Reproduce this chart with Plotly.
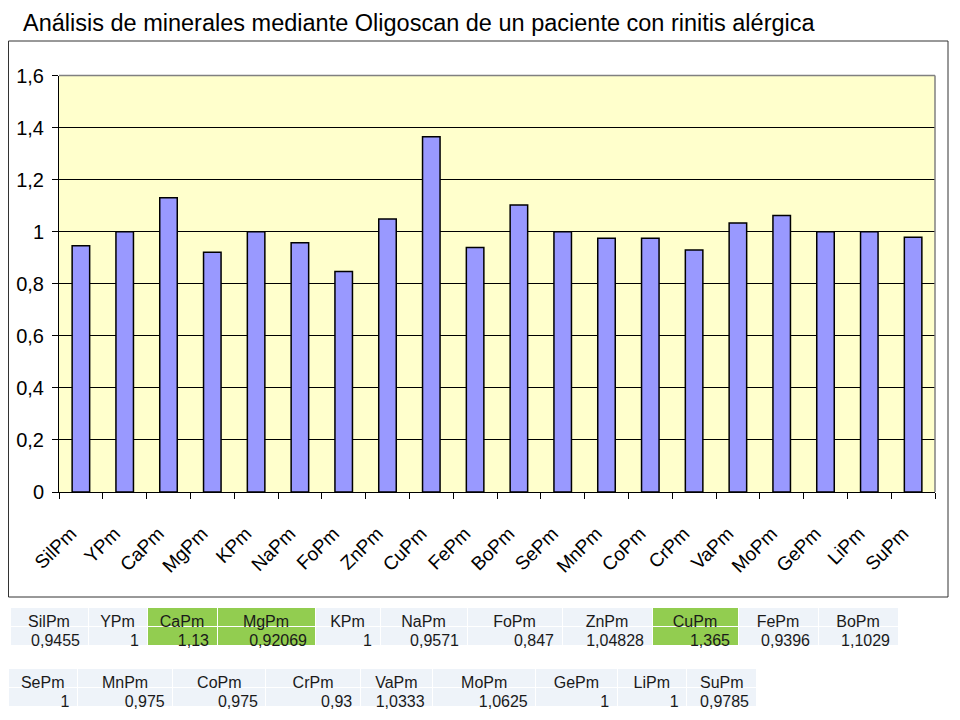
import plotly.graph_objects as go

title_text = "Análisis de minerales mediante Oligoscan de un paciente con rinitis alérgica"

categories = ["SilPm", "YPm", "CaPm", "MgPm", "KPm", "NaPm", "FoPm", "ZnPm", "CuPm", "FePm",
              "BoPm", "SePm", "MnPm", "CoPm", "CrPm", "VaPm", "MoPm", "GePm", "LiPm", "SuPm"]
values = [0.9455, 1, 1.13, 0.92069, 1, 0.9571, 0.847, 1.04828, 1.365, 0.9396,
          1.1029, 1, 0.975, 0.975, 0.93, 1.0333, 1.0625, 1, 1, 0.9785]
highlighted = ["CaPm", "MgPm", "CuPm"]

table1_n = 11
y_ticks = [0, 0.2, 0.4, 0.6, 0.8, 1, 1.2, 1.4, 1.6]

W, H = 960, 720
OFF = 8  # page body margin offset compensation
def px_x(v):
    return max(0.0, (v - OFF) / W)
def px_y(v):
    return min(1.0, 1 - (v - OFF) / H)

FONT = "Liberation Sans, Arial, sans-serif"
TABLE_BG = "#EEF3F9"
GREEN = "#92CD50"

def fmt(v):
    return f"{v:g}".replace(".", ",")

fig = go.Figure()

fig.add_trace(go.Bar(
    x=categories, y=values,
    marker=dict(color="#9999FF", line=dict(color="#000000", width=1.5)),
    xaxis="x", yaxis="y", showlegend=False, hoverinfo="x+y",
))

def make_table(cats, vals, xdom, ydom, widths):
    fills = [GREEN if c in highlighted else TABLE_BG for c in cats]
    return go.Table(
        domain=dict(x=xdom, y=ydom),
        columnwidth=widths,
        header=dict(values=cats, fill=dict(color=fills), align="center",
                    font=dict(family=FONT, size=16, color="#1a1a1a"),
                    line=dict(color="#FFFFFF", width=1), height=19),
        cells=dict(values=[[fmt(v)] for v in vals], fill=dict(color=[[f] for f in fills]),
                   align="right", font=dict(family=FONT, size=16, color="#1a1a1a"),
                   line=dict(color="#FFFFFF", width=1), height=19),
    )

b1 = [10, 88, 147, 217, 315, 380, 467, 562, 652, 738, 818, 898]
b2 = [2, 72, 168, 262, 357, 430, 534, 616, 686, 757]
w1 = [b1[i + 1] - b1[i] for i in range(len(b1) - 1)]
w2 = [b2[i + 1] - b2[i] for i in range(len(b2) - 1)]

fig.add_trace(make_table(categories[:table1_n], values[:table1_n],
                         [px_x(b1[0]), px_x(b1[-1])], [px_y(662), px_y(607)], w1))
fig.add_trace(make_table(categories[table1_n:], values[table1_n:],
                         [px_x(b2[0]), px_x(b2[-1])], [0, px_y(668)], w2))

x0, x1 = 59, 935
y0, y1 = 75.5, 492

fig.update_layout(
    width=W, height=H,
    margin=dict(l=0, r=0, t=0, b=0, pad=0, autoexpand=False),
    paper_bgcolor="#FFFFFF",
    plot_bgcolor="#FFFFCC",
    separators=",.",
    font=dict(family=FONT, color="#000000"),
    bargap=0.6,
    annotations=[dict(text=title_text, xref="paper", yref="paper", x=px_x(21), xanchor="left",
                      y=px_y(23), yanchor="middle", showarrow=False,
                      font=dict(family=FONT, size=23.5, color="#000000"))],
    xaxis=dict(domain=[px_x(x0), px_x(x1)], type="category", automargin=False,
               showline=True, linecolor="#000000", linewidth=1,
               ticks="outside", ticklen=6, tickcolor="#000000", tickson="boundaries",
               tickangle=-45, tickfont=dict(family=FONT, size=19, color="#000000"),
               ticklabelstandoff=22, ticklabelshift=-10, showgrid=False, fixedrange=True),
    yaxis=dict(domain=[px_y(y1), px_y(y0)], range=[0, 1.6], automargin=False,
               tickvals=y_ticks, showline=True, linecolor="#000000", linewidth=1,
               ticks="outside", ticklen=6, tickcolor="#000000", ticklabelstandoff=4,
               tickfont=dict(family=FONT, size=20, color="#000000"),
               showgrid=True, gridcolor="#000000", gridwidth=1, zeroline=False,
               fixedrange=True),
    shapes=[
        dict(type="rect", xref="paper", yref="paper", x0=px_x(4) + 0.5 / W, x1=px_x(948),
             y0=px_y(597), y1=px_y(41), line=dict(color="#333333", width=1), layer="above"),
        dict(type="line", xref="paper", yref="paper", x0=px_x(x0), x1=px_x(x1),
             y0=px_y(y0), y1=px_y(y0), line=dict(color="#808080", width=1.5), layer="above"),
        dict(type="line", xref="paper", yref="paper", x0=px_x(x1), x1=px_x(x1),
             y0=px_y(y0), y1=px_y(y1), line=dict(color="#808080", width=1.5), layer="above"),
    ],
)

fig.write_html("out.html")
